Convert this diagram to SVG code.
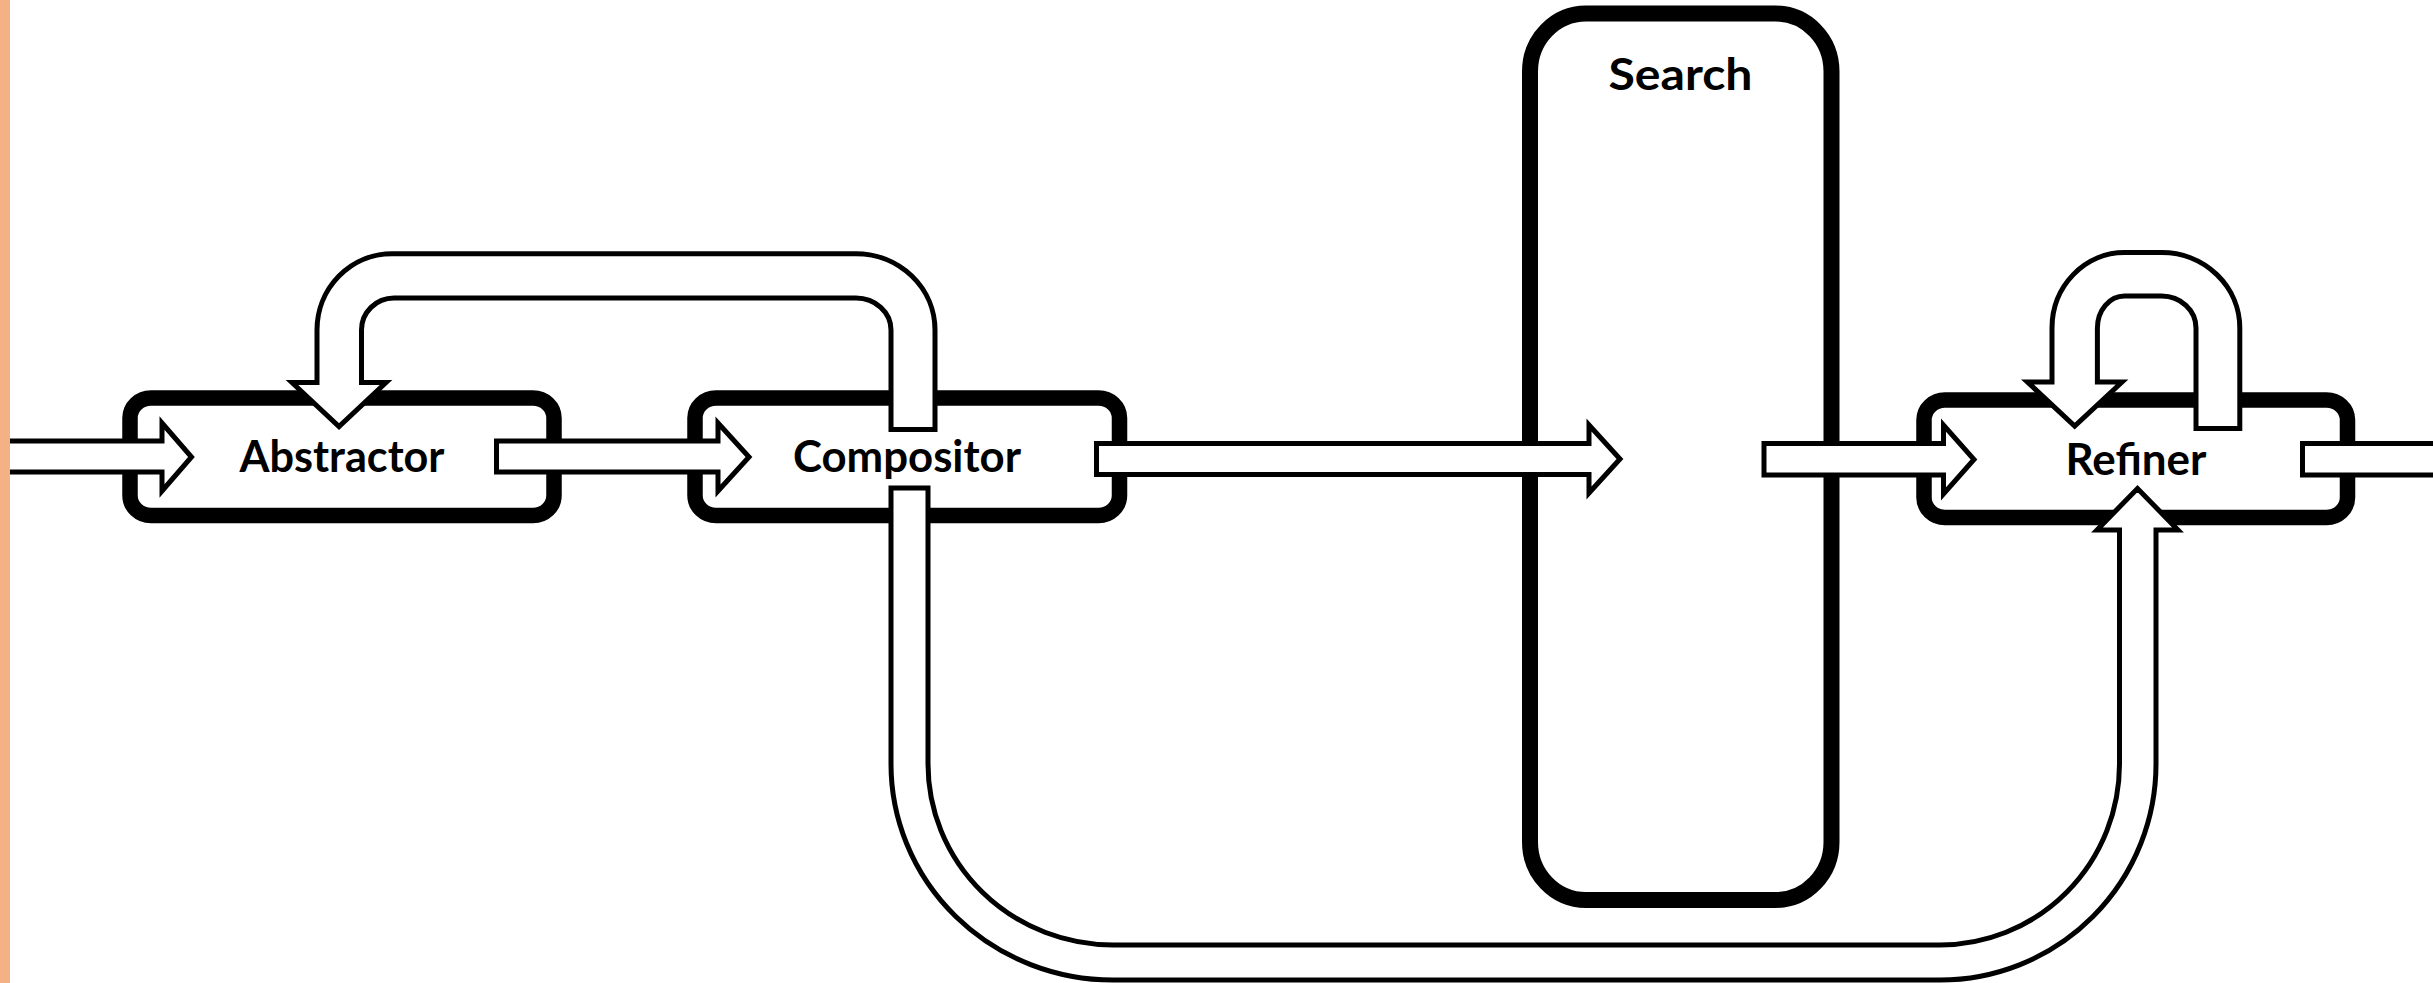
<svg xmlns="http://www.w3.org/2000/svg" width="2433" height="983" viewBox="0 0 2433 983">
  <style>
    .box { fill: #ffffff; stroke: #000000; stroke-width: 15.5; }
    .pipe { fill: #ffffff; stroke: #000000; stroke-width: 5; stroke-linejoin: miter; }
    .label { font-family: Lato, "Open Sans", "Liberation Sans", sans-serif; font-weight: bold; font-size: 44px; text-anchor: middle; fill: #000000; }
  </style>

  <rect x="0" y="0" width="2433" height="983" fill="#ffffff"/>

  <!-- processing stages -->
  <g id="abstractor">
    <rect class="box" x="130" y="398" width="424" height="117.5" rx="21" ry="20"/>
    <text class="label" x="342" y="472" textLength="205" lengthAdjust="spacingAndGlyphs">Abstractor</text>
  </g>

  <g id="compositor">
    <rect class="box" x="695" y="398" width="424.5" height="117.5" rx="21" ry="20"/>
    <text class="label" x="907" y="472" textLength="228" lengthAdjust="spacingAndGlyphs">Compositor</text>
  </g>

  <g id="search">
    <rect class="box" x="1530" y="13.5" width="301.5" height="886.5" rx="56" ry="58" style="stroke-width:16"/>
    <text class="label" x="1680.5" y="90" textLength="144" lengthAdjust="spacingAndGlyphs">Search</text>
  </g>

  <g id="refiner">
    <rect class="box" x="1924" y="400" width="423.5" height="117.5" rx="21" ry="20"/>
    <text class="label" x="2136" y="475" textLength="141" lengthAdjust="spacingAndGlyphs">Refiner</text>
  </g>

  <!-- block arrows between stages -->
  <g id="connectors">
    <!-- external input into Abstractor -->
    <path class="pipe" d="M 2 441 L 162 441 L 162 423 L 191.5 457 L 162 491 L 162 472 L 2 472 Z"/>
    <!-- Abstractor to Compositor -->
    <path class="pipe" d="M 496.5 441 L 718 441 L 718 423 L 749 457 L 718 491 L 718 472 L 496.5 472 Z"/>
    <!-- Compositor to Search -->
    <path class="pipe" d="M 1096.5 443.5 L 1589 443.5 L 1589 425 L 1620 459 L 1589 493 L 1589 474.5 L 1096.5 474.5 Z"/>
    <!-- Search to Refiner -->
    <path class="pipe" d="M 1764 443.5 L 1943.5 443.5 L 1943.5 425 L 1974 459.5 L 1943.5 494 L 1943.5 475 L 1764 475 Z"/>
    <!-- Refiner output -->
    <path class="pipe" d="M 2302.5 443.5 L 2445 443.5 L 2445 475 L 2302.5 475 Z"/>

    <!-- feedback from Compositor back to Abstractor -->
    <path class="pipe" d="M 891 429.5 L 891 330 A 35 32 0 0 0 856 298 L 394 298 A 32.5 32 0 0 0 361.5 330 L 361.5 382.5 L 386 382.5 L 339 426.5 L 292 382.5 L 317 382.5 L 317 330 A 75 76.3 0 0 1 392 253.7 L 856 253.7 A 79 76.3 0 0 1 935 330 L 935 429.5 Z"/>

    <!-- Refiner self loop -->
    <path class="pipe" d="M 2196 428.5 L 2196 328 A 34.4 32 0 0 0 2161.6 296 L 2124.6 296 A 27.2 32 0 0 0 2097.4 328 L 2097.4 382 L 2122 382 L 2074.7 426 L 2027.4 382 L 2052 382 L 2052 328 A 72.6 75.5 0 0 1 2124.6 252.5 L 2161.6 252.5 A 78.2 75.5 0 0 1 2239.8 328 L 2239.8 428.5 Z"/>

    <!-- Compositor bypass into Refiner -->
    <path class="pipe" d="M 928 488 L 928 764 A 185 181 0 0 0 1113 945 L 1940 945 A 179.5 181 0 0 0 2119.5 764 L 2119.5 530 L 2097 530 L 2137.5 488.5 L 2178 530 L 2156 530 L 2156 764 A 216 216 0 0 1 1940 980 L 1113 980 A 222 216 0 0 1 891 764 L 891 488 Z"/>
  </g>

  <!-- side bar -->
  <rect x="0" y="0" width="10" height="983" fill="#F4B183"/>
</svg>
